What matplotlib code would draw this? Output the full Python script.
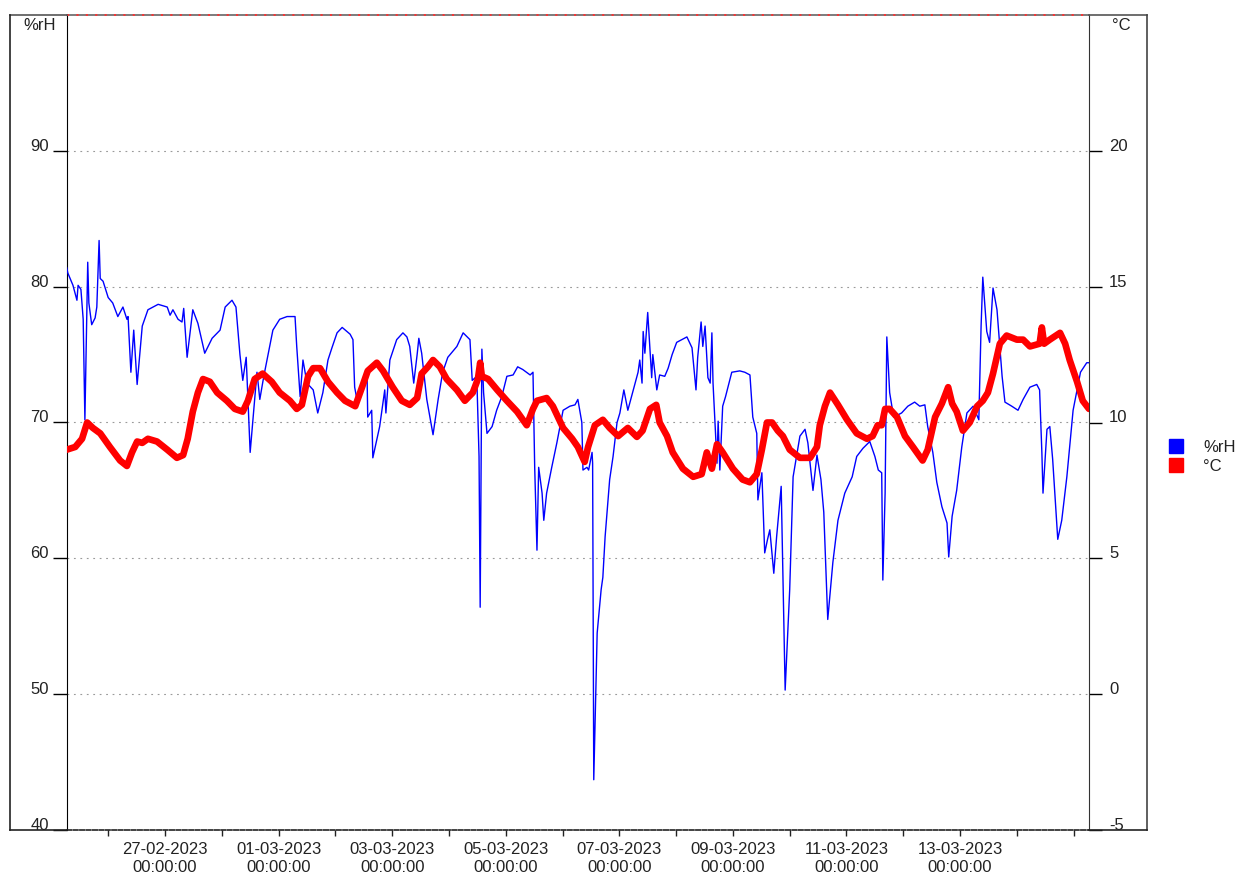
import matplotlib
matplotlib.use("Agg")
import matplotlib.pyplot as plt
from matplotlib.lines import Line2D
import pandas as pd

plt.rcParams['font.family'] = ['Liberation Sans', 'DejaVu Sans']

START = pd.Timestamp('2023-02-25 00:00')

# Relative humidity (%rH): time in days since 25-02-2023 00:00, values
rh_days = [0.27, 0.29, 0.38, 0.45, 0.47, 0.52, 0.56, 0.59, 0.64, 0.66, 0.71, 0.77, 0.80, 0.84, 0.86, 0.91,
           1.00, 1.08, 1.17, 1.26, 1.33, 1.35, 1.40, 1.45, 1.51, 1.60, 1.70, 1.88, 2.04, 2.09, 2.14, 2.23,
           2.30, 2.33, 2.39, 2.49, 2.58, 2.70, 2.83, 2.97, 3.06, 3.18, 3.25, 3.32, 3.37, 3.43, 3.48, 3.50,
           3.62, 3.67, 3.74, 3.90, 4.02, 4.15, 4.29, 4.32, 4.38, 4.43, 4.50, 4.61, 4.69, 4.78, 4.87, 4.94,
           5.03, 5.12, 5.26, 5.31, 5.34, 5.38, 5.43, 5.56, 5.57, 5.64, 5.66, 5.78, 5.87, 5.89, 5.96, 6.08,
           6.19, 6.26, 6.31, 6.38, 6.44, 6.47, 6.52, 6.61, 6.72, 6.81, 6.89, 6.98, 7.14, 7.25, 7.37, 7.41,
           7.49, 7.53, 7.55, 7.58, 7.61, 7.67, 7.76, 7.84, 7.93, 8.02, 8.13, 8.21, 8.30, 8.43, 8.48, 8.51,
           8.55, 8.58, 8.64, 8.67, 8.72, 8.81, 8.90, 9.01, 9.13, 9.22, 9.27, 9.34, 9.36, 9.43, 9.46, 9.52,
           9.53, 9.55, 9.61, 9.68, 9.71, 9.75, 9.83, 9.89, 9.96, 10.01, 10.08, 10.15, 10.28, 10.33, 10.36,
           10.40, 10.42, 10.45, 10.50, 10.57, 10.59, 10.66, 10.71, 10.80, 10.86, 10.93, 11.01, 11.10, 11.19,
           11.28, 11.35, 11.38, 11.44, 11.47, 11.51, 11.56, 11.60, 11.63, 11.65, 11.72, 11.74, 11.77, 11.82,
           11.87, 11.98, 12.12, 12.21, 12.30, 12.35, 12.42, 12.44, 12.51, 12.56, 12.61, 12.65, 12.72, 12.77,
           12.85, 12.92, 13.00, 13.06, 13.18, 13.27, 13.32, 13.41, 13.48, 13.55, 13.60, 13.67, 13.76, 13.85,
           13.97, 14.10, 14.18, 14.29, 14.41, 14.50, 14.56, 14.62, 14.64, 14.68, 14.71, 14.76, 14.83, 14.97,
           15.08, 15.20, 15.29, 15.38, 15.43, 15.52, 15.59, 15.68, 15.77, 15.80, 15.86, 15.94, 16.03, 16.12,
           16.23, 16.33, 16.37, 16.40, 16.47, 16.52, 16.58, 16.65, 16.74, 16.79, 16.91, 17.02, 17.11, 17.23,
           17.35, 17.40, 17.44, 17.46, 17.53, 17.58, 17.63, 17.72, 17.79, 17.88, 17.99, 18.12, 18.23, 18.27]
rh_values = [81.4, 81.0, 80.1, 79.0, 80.1, 79.8, 77.6, 70.2, 81.8, 78.8, 77.2, 77.7, 78.5, 83.4, 80.6, 80.4,
             79.2, 78.8, 77.8, 78.5, 77.6, 77.8, 73.7, 76.8, 72.8, 77.1, 78.3, 78.7, 78.5, 77.9, 78.3, 77.6,
             77.4, 78.4, 74.8, 78.3, 77.3, 75.1, 76.2, 76.8, 78.5, 79.0, 78.5, 75.0, 73.1, 74.8, 69.7, 67.8,
             73.7, 71.7, 73.4, 76.8, 77.6, 77.8, 77.8, 75.6, 71.9, 74.6, 72.9, 72.4, 70.7, 72.2, 74.6, 75.5,
             76.6, 77.0, 76.5, 76.1, 72.6, 71.7, 72.3, 73.1, 70.4, 70.9, 67.4, 69.7, 72.4, 70.7, 74.6, 76.1,
             76.6, 76.3, 75.6, 72.9, 75.0, 76.2, 75.1, 71.7, 69.1, 71.7, 73.7, 74.8, 75.6, 76.6, 76.1, 73.1,
             73.4, 67.5, 56.4, 75.4, 72.2, 69.2, 69.7, 70.9, 71.9, 73.4, 73.5, 74.1, 73.9, 73.5, 73.7, 66.7,
             60.6, 66.7, 64.8, 62.8, 64.8, 66.7, 68.5, 70.9, 71.2, 71.3, 71.7, 70.0, 66.5, 66.7, 66.5, 67.8,
             67.0, 43.7, 54.5, 57.7, 58.6, 61.6, 65.8, 67.5, 70.0, 70.7, 72.4, 70.9, 72.9, 73.7, 74.6,
             72.9, 76.7, 75.1, 78.1, 73.3, 75.0, 72.4, 73.5, 73.4, 74.0, 75.0, 75.9, 76.1, 76.3,
             75.5, 72.4, 74.8, 77.4, 75.6, 77.1, 73.3, 72.9, 76.6, 72.9, 67.0, 70.1, 66.5, 71.2,
             71.9, 73.7, 73.8, 73.7, 73.5, 70.4, 69.2, 64.3, 66.3, 60.4, 61.4, 62.1, 58.9, 61.6,
             65.3, 50.3, 57.7, 66.0, 69.0, 69.5, 68.5, 65.0, 67.6, 65.8, 63.4, 55.5, 59.7, 62.8,
             64.8, 66.0, 67.5, 68.1, 68.6, 67.5, 66.5, 66.3, 58.4, 64.8, 76.3, 72.2, 70.4, 70.7,
             71.2, 71.5, 71.2, 71.3, 69.7, 67.8, 65.6, 63.8, 62.6, 60.1, 63.1, 65.0, 68.2, 70.7,
             71.2, 70.2, 77.1, 80.7, 76.7, 75.9, 79.9, 78.3, 73.4, 71.5, 71.2, 70.9, 71.7, 72.6,
             72.8, 72.4, 67.8, 64.8, 69.5, 69.7, 67.3, 61.4, 62.8, 66.0, 70.9, 73.7, 74.4, 74.4]

# Temperature (°C): time in days since 25-02-2023 00:00, values
t_days = [0.27, 0.42, 0.54, 0.63, 0.73, 0.86, 1.03, 1.21, 1.33, 1.42, 1.51, 1.60, 1.70, 1.86, 2.04, 2.21,
          2.32, 2.40, 2.49, 2.58, 2.67, 2.79, 2.92, 3.09, 3.23, 3.37, 3.46, 3.58, 3.72, 3.88, 4.02, 4.20,
          4.32, 4.41, 4.52, 4.61, 4.73, 4.87, 5.03, 5.17, 5.35, 5.47, 5.57, 5.73, 5.84, 6.01, 6.17, 6.31,
          6.44, 6.52, 6.63, 6.72, 6.84, 6.96, 7.14, 7.28, 7.42, 7.51, 7.55, 7.58, 7.69, 7.85, 8.02, 8.20,
          8.37, 8.48, 8.55, 8.72, 8.83, 9.01, 9.17, 9.27, 9.39, 9.45, 9.57, 9.71, 9.83, 9.98, 10.15, 10.31,
          10.41, 10.54, 10.65, 10.71, 10.84, 10.94, 11.12, 11.30, 11.45, 11.54, 11.63, 11.72, 11.82, 12.00,
          12.17, 12.30, 12.42, 12.51, 12.60, 12.69, 12.79, 12.88, 13.00, 13.18, 13.36, 13.48, 13.53, 13.62,
          13.71, 13.85, 14.01, 14.18, 14.36, 14.46, 14.55, 14.62, 14.68, 14.76, 14.89, 15.03, 15.17, 15.34,
          15.43, 15.56, 15.68, 15.79, 15.86, 15.94, 16.05, 16.17, 16.30, 16.40, 16.49, 16.58, 16.70, 16.82,
          17.00, 17.11, 17.23, 17.40, 17.44, 17.48, 17.58, 17.76, 17.85, 17.93, 18.06, 18.16, 18.27]
t_values = [9.0, 9.1, 9.4, 10.0, 9.8, 9.6, 9.1, 8.6, 8.4, 8.9, 9.3, 9.25, 9.4, 9.3, 9.0, 8.7,
            8.8, 9.4, 10.4, 11.1, 11.6, 11.5, 11.1, 10.8, 10.5, 10.4, 10.8, 11.6, 11.8, 11.5, 11.1, 10.8,
            10.5, 10.65, 11.7, 12.0, 12.0, 11.5, 11.1, 10.8, 10.6, 11.3, 11.9, 12.2, 11.9, 11.3, 10.8, 10.65,
            10.9, 11.8, 12.05, 12.3, 12.05, 11.6, 11.2, 10.8, 11.1, 11.6, 12.2, 11.7, 11.6, 11.2, 10.8, 10.4,
            9.9, 10.5, 10.8, 10.9, 10.6, 9.8, 9.4, 9.1, 8.55, 9.1, 9.9, 10.1, 9.8, 9.5, 9.8, 9.47,
            9.7, 10.5, 10.65, 10.0, 9.5, 8.9, 8.3, 8.0, 8.1, 8.9, 8.3, 9.2, 8.9, 8.3,
            7.9, 7.8, 8.1, 9.0, 10.0, 10.0, 9.7, 9.5, 9.0, 8.7, 8.7, 9.1, 9.9, 10.6,
            11.1, 10.65, 10.1, 9.6, 9.4, 9.5, 9.9, 9.9, 10.5, 10.5, 10.2, 9.5, 9.1, 8.6,
            9.0, 10.2, 10.7, 11.3, 10.7, 10.4, 9.7, 10.0, 10.6, 10.8, 11.1, 11.8, 12.9, 13.2,
            13.05, 13.05, 12.8, 12.9, 13.5, 12.9, 13.05, 13.3, 12.9, 12.3, 11.5, 10.8, 10.5]

rh_ticks = [40, 50, 60, 70, 80, 90]
t_ticks = [-5, 0, 5, 10, 15, 20]
major_dates = pd.date_range('2023-02-27', '2023-03-13', freq='2D')
minor_dates = pd.date_range('2023-02-26', '2023-03-15', freq='D')
x_start = START + pd.Timedelta(days=0.275)
x_end = START + pd.Timedelta(days=18.27)

rh_time = START + pd.to_timedelta(rh_days, unit='D')
t_time = START + pd.to_timedelta(t_days, unit='D')

W, H = 1239, 877
fig = plt.figure(figsize=(W / 100, H / 100), dpi=100)
ax = fig.add_axes([67 / W, 47 / H, (1089 - 67) / W, (830 - 15) / H])
ax2 = ax.twinx()

txt = '#222222'
ax.plot(rh_time, rh_values, color='#0000ff', lw=1.0, zorder=3)
ax2.plot(t_time, t_values, color='#ff0000', lw=4.8, solid_capstyle='round',
         solid_joinstyle='round', zorder=3)

ax.set_xlim(x_start, x_end)
ax.set_ylim(40, 100)
ax2.set_ylim(-5, 25)

# grid
for v in [50, 60, 70, 80, 90]:
    ax.axhline(v, color='#9a9a9a', lw=0.8, ls=(0, (1.6, 4.2)), zorder=1)
ax2.axhline(25, color='#ff3030', lw=1.3, ls=(0, (1.2, 4.0)), zorder=6, clip_on=False)

# y ticks
ax.set_yticks(rh_ticks, [str(v) for v in rh_ticks], va='baseline')
ax.tick_params(axis='y', direction='out', length=10, width=1.0, pad=3,
               labelsize=12, labelcolor=txt, color='black')
ax2.set_yticks(t_ticks, [str(v) for v in t_ticks], va='baseline')
ax2.tick_params(axis='y', direction='out', length=9.5, width=1.0, pad=5,
                labelsize=12, labelcolor=txt, color='black')

# x ticks
ax.set_xticks(major_dates, [d.strftime('%d-%m-%Y') + '\n00:00:00' for d in major_dates],
              linespacing=1.25)
ax.set_xticks(minor_dates, minor=True)
ax.tick_params(axis='x', which='both', direction='out', length=4.5, width=1.0,
               pad=4.5, labelsize=12, labelcolor=txt, color='#222222')
ax2.tick_params(axis='x', which='both', length=0)

ax.spines['top'].set_color('#666666')
ax.spines['top'].set_linewidth(1.2)
ax.spines['left'].set_color('black')
ax.spines['right'].set_visible(False)
ax.spines['bottom'].set_color('#111111')
ax.spines['bottom'].set_linewidth(1.1)
ax.spines['bottom'].set_linestyle((0, (3, 1.2)))
ax2.spines['right'].set_color('#333333')
for s in ('top', 'bottom', 'left'):
    ax2.spines[s].set_visible(False)

# outer frame
def fl(x0, y0, x1, y1, c='#333333', lw=1.2):
    fig.add_artist(Line2D([x0 / W, x1 / W], [1 - y0 / H, 1 - y1 / H], color=c, lw=lw))

fl(10, 15, 67, 15, '#555555')
fl(1089, 15, 1147, 15, '#555555')
fl(10, 15, 10, 830, '#222222')
fl(1147, 15, 1147, 830, '#444444')
fl(10, 830, 67, 830, '#222222')
fl(1089, 830, 1147, 830, '#222222')

fig.text(40 / W, 1 - 25 / H, '%rH', ha='center', va='center', fontsize=12, color=txt)
fig.text(1121 / W, 1 - 25 / H, '°C', ha='center', va='center', fontsize=12, color=txt)

handles = [Line2D([], [], marker='s', ls='None', color='#0000ff', markersize=10),
           Line2D([], [], marker='s', ls='None', color='#ff0000', markersize=10)]
fig.legend(handles, ['%rH', '°C'], loc='center left', bbox_to_anchor=(1168 / W, 1 - 457 / H),
           frameon=False, fontsize=12, handlelength=1.0, handletextpad=1.1,
           labelspacing=0.25, borderpad=0, borderaxespad=0, labelcolor=txt)

fig.savefig('out.png', dpi=100)
